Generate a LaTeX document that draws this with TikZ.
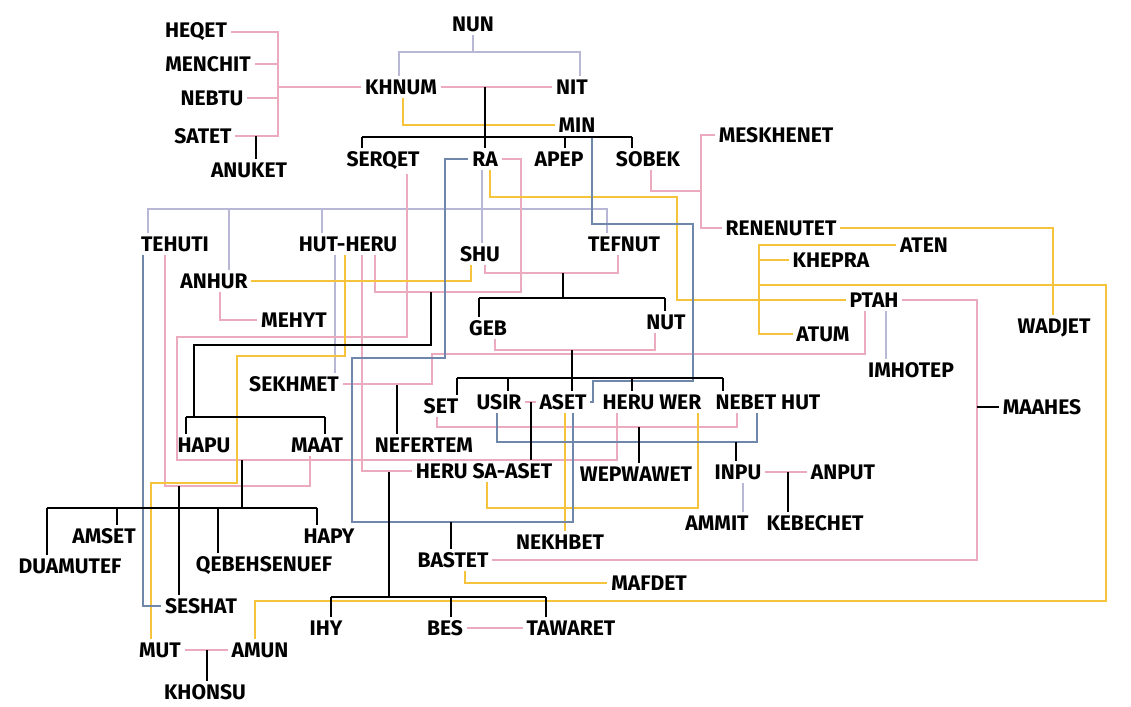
\documentclass[tikz,border=0pt]{standalone}
\usepackage{fontspec}
\setmainfont{Fira Sans}
\definecolor{cwed}{RGB}{236,170,190}\definecolor{clav}{RGB}{184,184,214}
\definecolor{cgold}{RGB}{245,196,60}\definecolor{cslate}{RGB}{110,135,170}
\tikzset{god/.style={inner sep=2.5pt,font=\fontsize{15}{15}\selectfont\bfseries},
kin/.style={line width=1.4pt},wed/.style={cwed,line width=1.2pt},lav/.style={clav,line width=1.2pt},
gold/.style={cgold,line width=1.3pt},slate/.style={cslate,line width=1.2pt}}
\begin{document}
\begin{tikzpicture}[x=0.025cm,y=-0.025cm]
\useasboundingbox (0,0) rectangle (1131,707);
\foreach \n/\x/\y/\t in {nun/473/24/NUN,khnum/401/87/KHNUM,nit/572/87/NIT,mingd/577/125/MIN,
heqet/196/32/HEQET,menchit/208/64/MENCHIT,nebtu/212/98/NEBTU,satet/203/136/SATET,anuket/249/170/ANUKET,
serqet/383/161/SERQET,ra/485/159/RA,apep/559/159/APEP,sobek/648/159/SOBEK,meskhenet/776/135/MESKHENET,
renenutet/781/228/RENENUTET,aten/924/245/ATEN,khepra/831/260/KHEPRA,ptah/874/300/PTAH,atum/823/334/ATUM,
wadjet/1054/328/WADJET,imhotep/911/370/IMHOTEP,maahes/1042/407/MAAHES,
tehuti/175/244/TEHUTI,anhur/214/281/ANHUR,hutheru/348/244/HUT-HERU,shu/480/254/SHU,tefnut/624/244/TEFNUT,mehyt/294/320/MEHYT,
geb/488/328/GEB,nut/666/322/NUT,sekhmet/294/384/SEKHMET,
set/441/406/SET,usir/499/402/USIR,aset/563/402/ASET,heruwer/652/402/HERU WER,nebethut/768/402/NEBET HUT,
hapu/204/445/HAPU,maat/317/445/MAAT,nefertem/424/445/NEFERTEM,herusaaset/484/471/HERU SA-ASET,wepwawet/636/474/WEPWAWET,
inpu/738/472/INPU,anput/843/472/ANPUT,ammit/717/523/AMMIT,kebechet/815/523/KEBECHET,
amset/104/536/AMSET,hapy/329/536/HAPY,duamutef/70/566/DUAMUTEF,qebehsenuef/264/566/QEBEHSENUEF,
nekhbet/560/542/NEKHBET,bastet/453/560/BASTET,mafdet/649/583/MAFDET,seshat/201/606/SESHAT,
ihy/326/628/IHY,bes/445/628/BES,tawaret/571/628/TAWARET,mut/160/650/MUT,amun/260/650/AMUN,khonsu/205/692/KHONSU}
  \node[god] (\n) at (\x,\y) {\t};
% grey
\draw[lav] (nun.south)--(473,52) (khnum.north-|399,0)|-(580,52)--(nit.north-|580,0);
\draw[lav] (ra.south-|482,0)--(shu.north-|482,0);
\draw[lav] (tehuti.north-|148,0)--(148,209)--(607,209)--(tefnut.north-|607,0) (229,209)--(anhur.north-|229,0) (322,209)--(hutheru.north-|322,0);
\draw[lav] (hutheru.south-|335,0)--(sekhmet.north-|335,0);\draw[lav] (ptah.south-|886,0)--(imhotep.north-|886,0);\draw[lav] (inpu.south-|743,0)--(ammit.north-|743,0);
% pink
\draw[wed] (khnum.east)--(nit.west);\draw[wed] (khnum.west)--(278,87);
\draw[wed] (heqet.east)-|(satet.east-|278,0)--(satet.east) (menchit.east)--(278,64) (nebtu.east)--(278,98);
\draw[wed] (meskhenet.west)-|(renenutet.west-|701,0)--(renenutet.west) (sobek.south-|651,0)|-(701,191);
\draw[wed] (ra.east)-|(521,292)-|(hutheru.south-|375,0);
\draw[wed] (shu.south-|485,0)|-(618,273)--(tefnut.south-|618,0);
\draw[wed] (anhur.south-|220,0)|-(mehyt.west);
\draw[wed] (serqet.south-|407,0)|-(177,337)--(177,460)-|(heruwer.south-|617,0);
\draw[wed] (tehuti.south-|165,0)|-(310,486)--(maat.south-|310,0);
\draw[wed] (hutheru.south-|362,0)|-(herusaaset.west);
\draw[wed] (sekhmet.east)-|(432,354)-|(ptah.south-|865,0);
\draw[wed] (geb.south-|495,0)|-(655,350)--(nut.south-|655,0);
\draw[wed] (set.south-|437,0)|-(737,427)--(nebethut.south-|737,0);
\draw[wed] (usir.east)--(aset.west);\draw[wed] (ptah.east)-|(977,560)--(bastet.east);
\draw[wed] (inpu.east)--(anput.west);\draw[wed] (mut.east)--(amun.west);\draw[wed] (bes.east)--(tawaret.west);
% yellow
\draw[gold] (khnum.south-|403,0)|-(mingd.west);
\draw[gold] (ra.south-|490,0)|-(677,197)|-(ptah.west);
\draw[gold] (anhur.east)-|(shu.south-|471,0);
\draw[gold] (hutheru.south-|345,0)|-(237,356)|-(151,483)--(mut.north-|151,0);
\draw[gold] (renenutet.east)-|(wadjet.north-|1053,0);
\draw[gold] (aten.west)-|(atum.west-|759,0)--(atum.west) (759,260)--(khepra.west) (759,285)-|(1106,601)-|(amun.north-|255,0);
\draw[gold] (heruwer.south-|698,0)|-(487,508)--(herusaaset.south-|487,0);
\draw[gold] (aset.south-|565,0)--(nekhbet.north-|565,0);\draw[gold] (bastet.south-|465,0)|-(mafdet.west);
% blue
\draw[slate] (mingd.south-|592,0)|-(693,224)|-(593,381)|-(aset.east);
\draw[slate] (ra.west)-|(445,358)-|(352,522)-|(aset.south-|573,0);
\draw[slate] (tehuti.south-|143,0)|-(seshat.west);
\draw[slate] (usir.south-|497,0)|-(757,442)--(nebethut.south-|757,0);
% black
\draw[kin] (485,87)--(ra.north) (362,137)--(632,137) (362,137)--(serqet.north-|362,0) (565,137)--(apep.north-|565,0) (632,137)--(sobek.north-|632,0);
\draw[kin] (256,136)--(anuket.north-|256,0);
\draw[kin] (563,273)--(563,298) (479,298)--(665,298) (479,298)--(geb.north-|479,0) (665,298)--(nut.north-|665,0);
\draw[kin] (572,350)--(572,378) (457,378)--(723,378);
\foreach \n/\x in {set/457,usir/508,aset/572,heruwer/632,nebethut/723}\draw[kin] (\x,378)--(\n.north-|\x,0);
\draw[kin] (431,292)--(431,345)--(194,345)--(194,417) (186,417)--(325,417) (186,417)--(hapu.north-|186,0) (325,417)--(maat.north-|325,0);
\draw[kin] (397,385)--(nefertem.north-|397,0);\draw[kin] (531,402)--(herusaaset.north-|531,0);
\draw[kin] (639,427)--(wepwawet.north-|639,0);\draw[kin] (736,442)--(inpu.north-|736,0);\draw[kin] (788,472)--(kebechet.north-|788,0);
\draw[kin] (242,460)--(242,508) (47,508)--(317,508);
\foreach \n/\x in {duamutef/47,amset/117,qebehsenuef/218,hapy/317}\draw[kin] (\x,508)--(\n.north-|\x,0);
\draw[kin] (179,486)--(seshat.north-|179,0);
\draw[kin] (389,472)--(389,597) (331,597)--(546,597);
\foreach \n/\x in {ihy/331,bes/451,tawaret/546}\draw[kin] (\x,597)--(\n.north-|\x,0);
\draw[kin] (451,522)--(bastet.north-|451,0);\draw[kin] (207,650)--(khonsu.north-|207,0);\draw[kin] (977,407)--(maahes.west);
\end{tikzpicture}
\end{document}
